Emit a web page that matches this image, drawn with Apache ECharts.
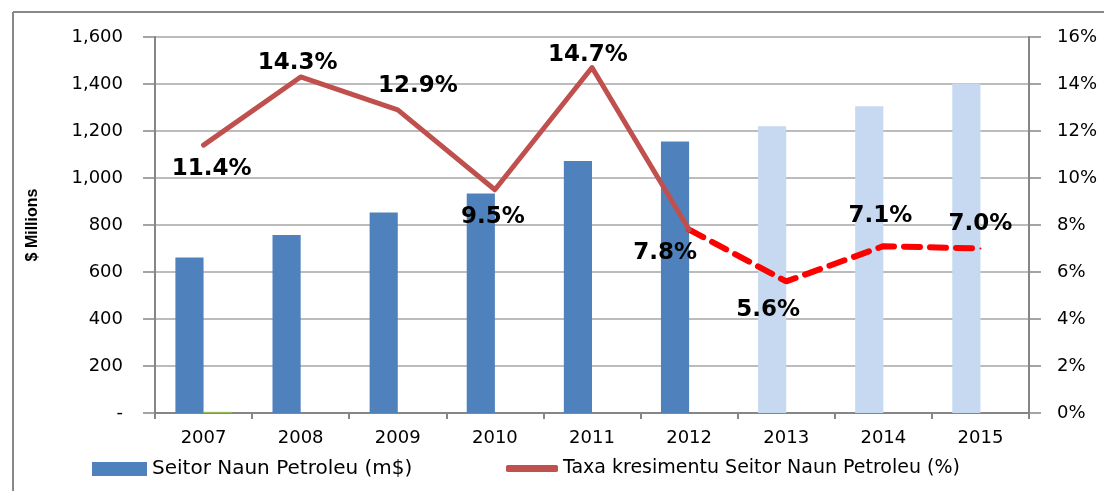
<!DOCTYPE html>
<html>
<head>
<meta charset="utf-8">
<script src="https://cdn.jsdelivr.net/npm/echarts@6/dist/echarts.min.js"></script>
<style>
html,body{margin:0;padding:0;background:#fff;}
#chart{width:1106px;height:491px;}
</style>
</head>
<body>
<div id="chart"></div>
<script>
// ---- data ----
const years = ['2007','2008','2009','2010','2011','2012','2013','2014','2015'];
const sectorValues = [662, 757, 853, 934, 1072, 1155, 1220, 1305, 1402]; // $ millions
const projectedFrom = 6; // index from which bars are projections (light colour)
const smallSeries = [5, 0, 0, 0, 0, 0, 0, 0, 0];
const growthActual = [11.4, 14.3, 12.9, 9.5, 14.7, 7.8, null, null, null];
const growthProjected = [null, null, null, null, null, 7.8, 5.6, 7.1, 7.0];
const leftTicks = [0, 200, 400, 600, 800, 1000, 1200, 1400, 1600];
const rightTicks = [0, 2, 4, 6, 8, 10, 12, 14, 16];

// label placement (style config)
const labelPlace = [
  {position:'bottom', distance:11, offset:[8,0]},
  {position:'top', distance:1, offset:[-3,0]},
  {position:'top', distance:11, offset:[20,0]},
  {position:'bottom', distance:15, offset:[-2,0]},
  {position:'top', distance:0, offset:[-4,0]},
  {position:'bottom', distance:11, offset:[-24,0]},
  {position:'bottom', distance:16, offset:[-18,0]},
  {position:'top', distance:18, offset:[-3,0]},
  {position:'top', distance:12, offset:[0,0]}
];

const axisGray = '#868686';
const chart = echarts.init(document.getElementById('chart'), null, {renderer:'canvas'});

const barData = sectorValues.map((v,i)=>({
  value:v,
  itemStyle:{color: i >= projectedFrom ? '#C6D9F1' : '#4F81BD'}
}));

const labelStyle = {
  show:true,
  fontFamily:'DejaVu Sans',
  fontWeight:'bold',
  fontSize:23,
  color:'#000'
};

const actualData = growthActual.map((v,i)=>{
  if (v == null) return null;
  return {value:v, label:Object.assign({formatter: v.toFixed(1)+'%'}, labelStyle, labelPlace[i])};
});
const projectedData = growthProjected.map((v,i)=>{
  if (v == null) return null;
  if (i < projectedFrom) return {value:v, label:{show:false}};
  return {value:v, label:Object.assign({formatter: v.toFixed(1)+'%'}, labelStyle, labelPlace[i])};
});

const option = {
  animation:false,
  backgroundColor:'#fff',
  textStyle:{fontFamily:'DejaVu Sans'},
  grid:{left:155, right:77, top:37, bottom:78, containLabel:false},
  legend:[
    {
      data:[{name:'Seitor Naun Petroleu (m$)', icon:'rect', itemStyle:{color:'#4F81BD'}}],
      left:87, top:454, itemWidth:55, itemHeight:14, itemGap:5,
      textStyle:{fontFamily:'DejaVu Sans', fontSize:20, color:'#000'},
      selectedMode:false
    },
    {
      data:[{name:'Taxa kresimentu Seitor Naun Petroleu (%)', icon:'roundRect', itemStyle:{color:'#C0504D', opacity:1}}],
      left:501, top:454, itemWidth:52, itemHeight:7, itemGap:5,
      textStyle:{fontFamily:'DejaVu Sans', fontSize:19, color:'#000'},
      selectedMode:false
    }
  ],
  xAxis:{
    type:'category',
    data:years,
    boundaryGap:true,
    axisLine:{lineStyle:{color:axisGray, width:2}},
    axisTick:{show:true, length:6, lineStyle:{color:axisGray, width:2}, alignWithLabel:false},
    axisLabel:{color:'#000', fontSize:18, fontFamily:'DejaVu Sans', margin:16}
  },
  yAxis:[
    {
      type:'value', min:0, max:1600, interval:200,
      name:'$ Millions', nameLocation:'middle', nameGap:114, nameRotate:90,
      nameTextStyle:{fontFamily:'Liberation Sans', fontWeight:'bold', fontSize:16, color:'#000'},
      axisLine:{show:true, lineStyle:{color:axisGray, width:2}},
      axisTick:{show:true, length:12, lineStyle:{color:axisGray, width:1.5}},
      splitLine:{show:true, lineStyle:{color:'#a6a6a6', width:1.5}},
      axisLabel:{color:'#000', fontSize:18, fontFamily:'DejaVu Sans', margin:32,
        formatter:(v)=> v===0 ? '-' : v.toLocaleString('en-US')}
    },
    {
      type:'value', min:0, max:16, interval:2, position:'right',
      axisLine:{show:true, lineStyle:{color:axisGray, width:2}},
      axisTick:{show:true, length:12, lineStyle:{color:axisGray, width:1.5}},
      splitLine:{show:false},
      axisLabel:{color:'#000', fontSize:18, fontFamily:'DejaVu Sans', margin:28,
        formatter:(v)=> v+'%'}
    }
  ],
  series:[
    {
      name:'Seitor Naun Petroleu (m$)', type:'bar', data:barData,
      barWidth:'29%', barGap:'0%', itemStyle:{color:'#4F81BD'}, z:2
    },
    {
      name:'small', type:'bar', data:smallSeries,
      barWidth:'29%', barGap:'0%', itemStyle:{color:'#9BBB59'}, z:2
    },
    {
      name:'Taxa kresimentu Seitor Naun Petroleu (%)', type:'line', yAxisIndex:1,
      data:actualData, showSymbol:true, symbol:'circle', symbolSize:2,
      lineStyle:{color:'#C0504D', width:5, cap:'round', join:'round'},
      itemStyle:{color:'#C0504D'}, z:4
    },
    {
      name:'projected', type:'line', yAxisIndex:1,
      data:projectedData, showSymbol:true, symbol:'circle', symbolSize:2,
      lineStyle:{color:'#FF0000', width:6, type:[16,10], cap:'round'},
      itemStyle:{color:'#FF0000'}, z:3
    }
  ],
  graphic:[
    {type:'line', shape:{x1:13, y1:12, x2:13, y2:491}, style:{stroke:'#888', lineWidth:2}, silent:true},
    {type:'line', shape:{x1:13, y1:12, x2:1104, y2:12}, style:{stroke:'#888', lineWidth:2}, silent:true}
  ]
};
chart.setOption(option);
</script>
</body>
</html>
